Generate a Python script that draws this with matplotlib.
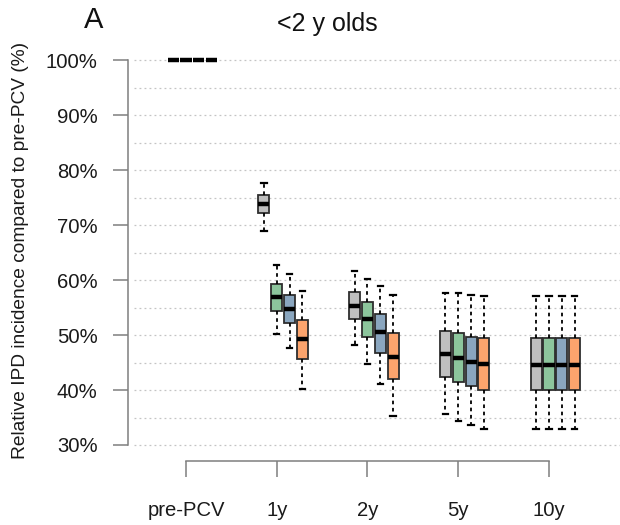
import matplotlib
matplotlib.use("Agg")
import matplotlib.pyplot as plt

plt.rcParams['font.family'] = ['Liberation Sans', 'DejaVu Sans']

timepoints = ["pre-PCV", "1y", "2y", "5y", "10y"]

# relative incidence (%) per scenario: median, quartiles, whisker ends
grey_med = [100, 73.9, 55.3, 46.5, 44.6]
grey_q1 = [100, 72.2, 52.9, 42.3, 40.0]
grey_q3 = [100, 75.4, 57.8, 50.8, 49.5]
grey_lo = [100, 69.0, 48.2, 35.6, 32.9]
grey_hi = [100, 77.6, 61.7, 57.6, 57.1]

green_med = [100, 57.0, 53.0, 45.8, 44.6]
green_q1 = [100, 54.4, 49.7, 41.4, 40.0]
green_q3 = [100, 59.3, 56.0, 50.4, 49.5]
green_lo = [100, 50.2, 44.7, 34.4, 32.9]
green_hi = [100, 62.8, 60.1, 57.6, 57.1]

blue_med = [100, 54.7, 50.6, 45.1, 44.6]
blue_q1 = [100, 52.2, 46.8, 40.7, 40.0]
blue_q3 = [100, 57.3, 53.8, 49.7, 49.4]
blue_lo = [100, 47.7, 41.1, 33.6, 32.9]
blue_hi = [100, 61.1, 59.0, 57.3, 57.1]

orange_med = [100, 49.3, 46.0, 44.7, 44.6]
orange_q1 = [100, 45.6, 42.0, 40.0, 40.0]
orange_q3 = [100, 52.7, 50.4, 49.4, 49.4]
orange_lo = [100, 40.1, 35.3, 32.9, 32.9]
orange_hi = [100, 58.0, 57.3, 57.1, 57.1]

series = [
    ("#bfbfbf", grey_med, grey_q1, grey_q3, grey_lo, grey_hi),
    ("#8cc59c", green_med, green_q1, green_q3, green_lo, green_hi),
    ("#8aa6bf", blue_med, blue_q1, blue_q3, blue_lo, blue_hi),
    ("#fca46d", orange_med, orange_q1, orange_q3, orange_lo, orange_hi),
]

fig = plt.figure(figsize=(6.2, 5.25), dpi=100)
ax = fig.add_axes([128 / 620, 70 / 525, 492 / 620, 415 / 525])

ax.set_xlim(1 + (128 - 186) / 90.75, 1 + (620 - 186) / 90.75)
ax.set_ylim(30 - 10 / 5.5, 100 + 20 / 5.5)

# dotted grid every 5%
for g in range(30, 101, 5):
    ax.plot([0.43, 5.8], [g, g], color="#c4c4c4", lw=0.9, ls=(0, (1.5, 2.5)),
            zorder=0, clip_on=False)

step = 0.141
width = 0.122
for k, (col, med, q1, q3, lo, hi) in enumerate(series):
    stats = [dict(med=med[i], q1=q1[i], q3=q3[i], whislo=lo[i], whishi=hi[i])
             for i in range(len(timepoints))]
    pos = [i + 1 + (k - 1) * step for i in range(len(timepoints))]
    ax.bxp(stats, positions=pos, widths=width, patch_artist=True,
           showfliers=False, manage_ticks=False,
           boxprops=dict(facecolor=col, edgecolor="#2e2e2e", linewidth=1.3),
           medianprops=dict(color="black", linewidth=3.2, solid_capstyle="butt"),
           whiskerprops=dict(color="black", linewidth=1.3, linestyle=(0, (2, 2))),
           capprops=dict(color="black", linewidth=1.6),
           capwidths=0.06)

for s in ["top", "right"]:
    ax.spines[s].set_visible(False)
ax.spines["left"].set_bounds(30, 100)
ax.spines["bottom"].set_bounds(1, 5)
ax.spines["bottom"].set_position(("outward", 4.5))
for s in ["left", "bottom"]:
    ax.spines[s].set_color("#7f7f7f")
    ax.spines[s].set_linewidth(1.1)

ax.set_yticks(range(30, 101, 10))
ax.set_yticklabels([f"{v}%" for v in range(30, 101, 10)])
ax.set_xticks(range(1, len(timepoints) + 1))
ax.set_xticklabels(timepoints)
ax.tick_params(axis="y", length=10.8, width=1.1, color="#7f7f7f", pad=11,
               labelsize=14.6, labelcolor="#1a1a1a")
ax.tick_params(axis="x", length=11.5, width=1.1, color="#7f7f7f", pad=17,
               labelsize=14.6, labelcolor="#1a1a1a")

fig.text(21 / 620, 1 - 250 / 525, "Relative IPD incidence compared to pre-PCV (%)",
         rotation=90, ha="center", va="center", fontsize=13.8, color="#1a1a1a")
fig.text(94 / 620, 1 - 20 / 525, "A", ha="center", va="center",
         fontsize=21, color="#111111")
fig.text(327 / 620, 1 - 24 / 525, "<2 y olds", ha="center", va="center",
         fontsize=18, color="#111111")

fig.savefig("out.png", dpi=100)
